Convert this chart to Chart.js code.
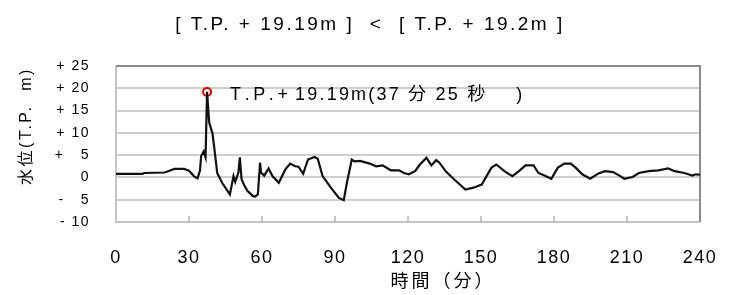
<!DOCTYPE html>
<html><head><meta charset="utf-8">
<script src="https://cdn.jsdelivr.net/npm/chart.js@4.4.1/dist/chart.umd.min.js"></script>
<style>html,body{margin:0;padding:0;background:#fff}#wrap{width:740px;height:295px}</style>
</head><body><div id="wrap"><canvas id="c" width="740" height="295"></canvas></div>
<script>
const times = [0,11,11.5,20,22,24,28,30,32,33.5,34.5,35,36,36.8,37.42,38.3,39.3,39.6,40.3,41.6,43.6,46.8,48.3,49,50.3,50.9,51.6,52.9,54,56.3,57.2,58.3,59.2,59.6,60.9,62.7,64.3,66.9,69.6,71.6,73.6,75,76.9,78.9,81.6,82.9,84.9,88.3,91.6,93.6,94.9,96.9,98,100.3,104.3,106.9,109.6,112.9,116.3,118.3,120.3,122.9,124.9,127.6,129.6,131.6,132.9,135.6,138.9,143.6,146.9,150.3,152.3,154.3,156.3,159.6,162.9,165.6,168.3,171.6,173.6,176.3,178.9,181.6,184.3,186.9,188.9,191.6,194.9,198.3,200.9,204.3,206.9,208.9,212.3,214.9,218.9,222.9,226.9,229.6,233.6,236.9,238.3,240];
const levels = [0.8,0.8,1.0,1.1,1.5,1.9,1.9,1.5,0.3,-0.2,1.5,4.8,5.8,4.5,19.19,12.3,10.5,10,7,1,-1.2,-3.8,0.3,-1.0,1.1,4.5,-0.4,-2,-3,-4.2,-4.3,-3.8,3.3,1.1,0.4,2,0.3,-1.2,1.8,3.1,2.5,2.4,0.8,4,4.6,4.2,0.3,-2.3,-4.6,-5.1,-1.2,4,3.6,3.7,3.1,2.5,2.7,1.6,1.6,1.0,0.7,1.4,2.9,4.4,2.7,3.9,3.3,1.3,-0.4,-2.7,-2.3,-1.6,0.3,2.2,2.9,1.4,0.3,1.4,2.7,2.7,1.0,0.4,-0.3,2.2,3.1,3.1,2.2,0.7,-0.3,0.9,1.4,1.2,0.4,-0.3,0.1,1.0,1.4,1.6,2.0,1.4,1.0,0.4,0.7,0.6];
const peakTime = [37.42];
const peakLevel = [19.19];
const xTicks = [0,30,60,90,120,150,180,210,240];
const yTickValues = [25,20,15,10,5,0,-5,-10];
const yTickLabels = ['+ 25','+ 20','+ 15','+ 10','+   5','0','-   5','- 10'];
const titleText = '[ T.P. + 19.19m ]  <  [ T.P. + 19.2m ]';
const peakTextA = 'T . P . +';
const peakTextB = '19.19m(37 分 25 秒    )';
const xTitle = '時間（分）';
const yTitle = '水位(T.P.  m)';

const FONT = "'Liberation Sans', Arial, 'Noto Sans CJK JP', sans-serif";

const framePlugin = {
  id: 'frame',
  beforeDraw(chart) { chart.ctx.letterSpacing = '1.5px'; },
  beforeDatasetsDraw(chart) {
    const {ctx, chartArea: a, scales} = chart;
    ctx.save();
    ctx.lineWidth = 2;
    ctx.strokeStyle = '#c4c4c4';
    ctx.beginPath();
    ctx.moveTo(a.left, a.top); ctx.lineTo(a.left, a.bottom); ctx.lineTo(a.right, a.bottom);
    ctx.stroke();
    ctx.strokeStyle = '#8a8a8a';
    ctx.beginPath();
    ctx.moveTo(a.left, a.top); ctx.lineTo(a.right, a.top); ctx.lineTo(a.right, a.bottom);
    ctx.stroke();
    ctx.strokeStyle = '#b0b0b0';
    ctx.lineWidth = 1.5;
    xTicks.forEach(v => {
      if (v === 0 || v === 240) return;
      const x = scales.x.getPixelForValue(v);
      ctx.beginPath(); ctx.moveTo(x, a.bottom); ctx.lineTo(x, a.bottom - 6); ctx.stroke();
    });
    ctx.restore();
  },
  afterDraw(chart) {
    const {ctx, scales} = chart;
    ctx.save();
    ctx.fillStyle = '#000';
    ctx.textBaseline = 'middle';
    // title
    ctx.font = "19px " + FONT;
    ctx.letterSpacing = '2.5px';
    ctx.textAlign = 'center';
    ctx.fillText(titleText, 370, 25);
    // x title
    ctx.font = "18px " + FONT;
    ctx.letterSpacing = '3px';
    ctx.fillText(xTitle, 443, 282);
    // annotation
    const px = scales.x.getPixelForValue(peakTime[0]);
    const py = scales.y.getPixelForValue(peakLevel[0]);
    ctx.textAlign = 'left';
    ctx.font = "18px " + FONT;
    ctx.letterSpacing = '-0.7px';
    ctx.fillText(peakTextA, px + 23, py + 3);
    ctx.letterSpacing = '2.2px';
    ctx.fillText(peakTextB, px + 88, py + 3);
    // y title
    ctx.translate(27, 126);
    ctx.rotate(-Math.PI / 2);
    ctx.textAlign = 'center';
    ctx.font = "16px " + FONT;
    ctx.letterSpacing = '2.5px';
    ctx.fillText(yTitle, 0, 0);
    ctx.restore();
  }
};

new Chart(document.getElementById('c'), {
  type: 'line',
  data: {
    datasets: [
      {
        data: times.map((t, i) => ({x: t, y: levels[i]})),
        borderColor: '#111', borderWidth: 2.2, pointRadius: 0, tension: 0, fill: false
      },
      {
        data: peakTime.map((t, i) => ({x: t, y: peakLevel[i]})),
        showLine: false, pointRadius: 4, pointBorderWidth: 2,
        pointBorderColor: '#e00000', pointBackgroundColor: '#fff'
      }
    ]
  },
  options: {
    responsive: false, animation: false,
    layout: {padding: {top: 66, right: 25, left: 0, bottom: 0}},
    plugins: {legend: {display: false}, tooltip: {enabled: false}, title: {display: false}},
    scales: {
      x: {
        type: 'linear', min: 0, max: 240,
        afterBuildTicks: s => { s.ticks = xTicks.map(v => ({value: v})); },
        afterFit: s => { s.height = 73; },
        grid: {display: false, drawTicks: false},
        border: {display: false},
        ticks: {font: {size: 18, family: FONT}, color: '#000', padding: 25, maxRotation: 0, autoSkip: false}
      },
      y: {
        min: -10, max: 25,
        afterBuildTicks: s => { s.ticks = yTickValues.map(v => ({value: v})); },
        afterFit: s => { s.width = 116; },
        grid: {color: c => (c.tick && c.tick.value === 25) ? '#8a8a8a' : '#cfcfcf', lineWidth: 2, drawTicks: false},
        border: {display: false},
        ticks: {
          font: {size: 14, family: FONT}, color: '#000', padding: 26, autoSkip: false,
          callback: v => yTickLabels[yTickValues.indexOf(v)]
        }
      }
    }
  },
  plugins: [framePlugin]
});
</script></body></html>
